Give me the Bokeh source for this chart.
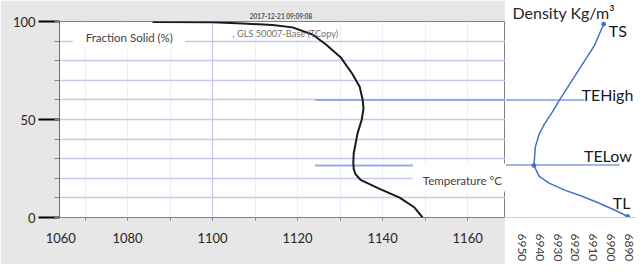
from bokeh.plotting import figure
from bokeh.layouts import row
from bokeh.models import Range1d, FixedTicker, Label, ColumnDataSource
from bokeh.core.properties import value
from bokeh.embed import file_html
from bokeh.resources import INLINE

# ---------------- data ----------------
# Fraction solid (%) versus temperature (deg C)
temp_c = [1085.9, 1100.0, 1107.1, 1114.1, 1118.8, 1123.5, 1126.6, 1130.1, 1132.9,
          1134.6, 1135.3, 1135.5, 1135.1, 1134.1, 1133.2, 1133.1, 1133.2, 1133.6,
          1134.8, 1139.3, 1144.0, 1147.5, 1149.4]
frac_solid = [99.7, 99.6, 99.0, 98.2, 97.0, 93.4, 88.4, 81.8, 73.2,
              66.7, 60.1, 55.6, 50.0, 42.9, 32.8, 27.8, 24.7, 22.2,
              19.2, 14.6, 10.1, 5.1, 0.0]

# Density (kg/m3) versus fraction solid (%)
density = [6904.3, 6909.6, 6929.2, 6933.1, 6937.4, 6940.2, 6942.3, 6943.1,
           6940.2, 6934.7, 6926.0, 6916.7, 6907.4, 6898.6, 6891.0]
dens_fs = [99.2, 87.9, 59.6, 53.5, 47.5, 42.4, 35.9, 26.3,
           20.7, 17.2, 13.6, 10.6, 7.1, 3.5, 0.0]

# marked points on the density curve
point_names = ["TS", "TELow", "TL"]
point_density = [6904.3, 6943.1, 6891.0]
point_fs = [99.2, 26.3, 0.0]

# eutectic levels (fraction solid %)
te_high = 60.0
te_low = 26.5

x_tick_values = [1060, 1080, 1100, 1120, 1140, 1160]
y_tick_values = [0, 50, 100]
dens_tick_values = [6890, 6900, 6910, 6920, 6930, 6940, 6950]

FONT = "Lato"
H = 264
TOP = 19
BOTTOM = 47

# ---------------- left chart ----------------
X0, X1 = 1064.0, 1168.9
p = figure(width=505, height=H, x_range=Range1d(X0, X1), y_range=Range1d(0, 100),
           output_backend="svg", toolbar_location=None, sizing_mode="fixed",
           min_border_left=59, min_border_right=0, min_border_top=TOP, min_border_bottom=BOTTOM)
p.background_fill_color = "white"
p.border_fill_color = "#e7e7e7"
p.outline_line_color = "#808080"

p.title.text = "2017-12-21   09:09:08"
p.title.align = "center"
p.title.text_font = FONT
p.title.text_font_size = "6.5px"
p.title.text_font_style = "bold"
p.title.text_color = "#505050"
p.title.standoff = 4

# x axis: first label sits on the left edge of the frame
x_tick_pos = [max(v, X0 + 0.3) for v in x_tick_values]
xax = p.xaxis[0]
xax.ticker = FixedTicker(ticks=x_tick_pos, minor_ticks=list(range(1070, 1170, 10)))
xax.major_label_overrides = {pos: str(v) for pos, v in zip(x_tick_pos, x_tick_values)}
xax.axis_line_color = None
xax.major_tick_line_color = None
xax.major_tick_out = 0
xax.minor_tick_out = 3
xax.minor_tick_in = 0
xax.minor_tick_line_color = "#808080"
xax.major_label_standoff = 12
xax.major_label_text_font = FONT
xax.major_label_text_font_size = "13px"
xax.major_label_text_color = "#262626"

yax = p.yaxis[0]
yax.ticker = FixedTicker(ticks=y_tick_values, minor_ticks=list(range(0, 101, 10)))
yax.axis_line_color = "#707070"
yax.major_tick_out = 21
yax.major_tick_in = 0
yax.major_tick_line_width = 2
yax.major_tick_line_color = "black"
yax.minor_tick_out = 5
yax.minor_tick_in = 0
yax.minor_tick_line_color = "#808080"
yax.major_label_standoff = 3
yax.major_label_text_baseline = "bottom"
yax.major_label_text_font = FONT
yax.major_label_text_font_size = "13px"
yax.major_label_text_color = "#262626"

p.ygrid.ticker = FixedTicker(ticks=list(range(10, 100, 10)))
p.ygrid.grid_line_color = "#c8c8f2"
p.ygrid.grid_line_width = 1.3
p.xgrid.ticker = FixedTicker(ticks=[1100], minor_ticks=list(range(1070, 1170, 10)))
p.xgrid.grid_line_color = "#c8c8f2"
p.xgrid.grid_line_width = 1.3
p.xgrid.minor_grid_line_color = "#eceef8"

# eutectic lines (left part)
p.segment(x0=[1124.1, 1124.1], y0=[te_high, te_low], x1=[X1, X1], y1=[te_high, te_low],
          line_color="#97abe0", line_width=2)

# fraction-solid curve
p.line(temp_c, frac_solid, line_color="#1a1a1a", line_width=2)

# text boxes
p.add_layout(Label(x=1067.1, y=92.2, text="Fraction Solid (%)", text_font=FONT,
                   text_font_size="11.5px", text_color="#404040", text_baseline="middle",
                   background_fill_color="white",
                   padding=dict(left=13, right=12, top=7, bottom=6)))
p.add_layout(Label(x=1147.1, y=20.4, text="Temperature \u00b0C", text_font=FONT,
                   text_font_size="11.5px", text_color="#404040", text_baseline="middle",
                   background_fill_color="white",
                   padding=dict(left=10, right=16, top=10, bottom=5)))
p.text(x=[1104.7], y=[93.7], text=[", GLS 50007-Base (TCopy)"], text_font=value(FONT),
       text_font_size="9.2px", text_color="#707070", text_baseline="middle")

# ---------------- right chart (density) ----------------
D0, D1 = 6958.9, 6886.1
q = figure(width=131, height=H, x_range=Range1d(D0, D1), y_range=Range1d(-0.5, 100.5),
           output_backend="svg", toolbar_location=None, y_axis_location=None,
           sizing_mode="fixed",
           min_border_left=0, min_border_right=0, min_border_top=TOP, min_border_bottom=BOTTOM)
q.title.text = "Density Kg/m\u00b3"
q.title.align = "left"
q.title.offset = 7
q.title.standoff = 0
q.title.text_font = FONT
q.title.text_font_size = "16px"
q.title.text_font_style = "normal"
q.title.text_color = "#262626"
q.background_fill_color = "white"
q.border_fill_color = "white"
q.outline_line_color = None
q.grid.visible = False

dax = q.xaxis[0]
dax.ticker = FixedTicker(ticks=dens_tick_values)
dax.axis_line_color = "#d0d0d0"
dax.major_tick_line_color = None
dax.major_tick_out = 0
dax.minor_tick_line_color = None
dax.major_label_orientation = "vertical"
dax.major_label_standoff = 16
dax.major_label_text_font = FONT
dax.major_label_text_font_size = "12px"
dax.major_label_text_color = "#404040"

q.segment(x0=[D0, D0], y0=[te_high, te_low], x1=[6915.0, 6895.4], y1=[te_high, te_low],
          line_color="#7f9fdc", line_width=1.5)
q.line(density, dens_fs, line_color="#4472c4", line_width=1.5)
q.scatter(point_density, point_fs, size=4, color="#4472c4")

lab_src = ColumnDataSource(dict(
    x=point_density + [6915.0],
    y=point_fs + [te_high],
    text=point_names + ["TEHigh"],
    dx=[5, 50, -15, -3],
    dy=[6, -10, -14, -6],
))
q.text(x="x", y="y", text="text", x_offset="dx", y_offset="dy", source=lab_src,
       text_font=value(FONT), text_font_size="16px", text_color="#1a1a1a",
       text_baseline="middle", text_align="left")

layout = row(p, q, spacing=0, width=636, height=H, sizing_mode="fixed")
open("out.html", "w").write(file_html(layout, INLINE))
